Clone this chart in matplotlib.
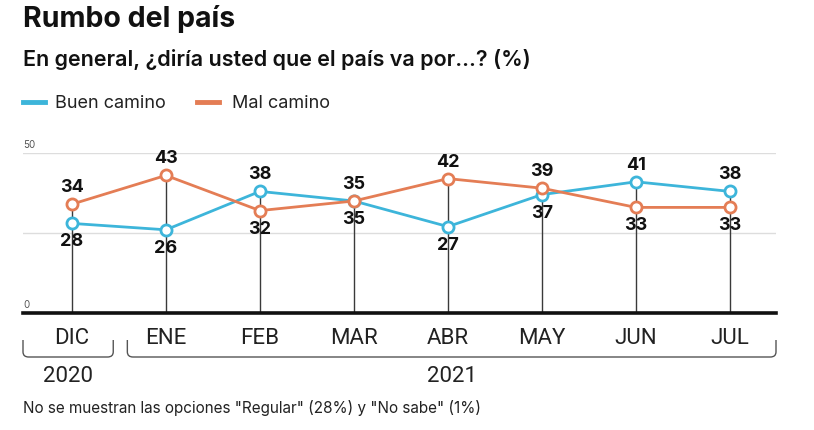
import matplotlib
matplotlib.use("Agg")
import matplotlib.pyplot as plt
from matplotlib.path import Path
from matplotlib.patches import PathPatch
import matplotlib.transforms as mtransforms

plt.rcParams['font.family'] = ['Inter', 'DejaVu Sans']
NARROW = ['Liberation Sans Narrow', 'Roboto', 'DejaVu Sans']

months = ["DIC", "ENE", "FEB", "MAR", "ABR", "MAY", "JUN", "JUL"]
buen = [28, 26, 38, 35, 27, 37, 41, 38]
mal = [34, 43, 32, 35, 42, 39, 33, 33]
years = ["2020", "2021"]
year_span = [(0, 0), (1, 7)]
yticks = [0, 50]
grid_vals = [25, 50]

BLUE = "#3db5da"
ORANGE = "#e47d55"
W, H = 814, 431

fig = plt.figure(figsize=(W / 100, H / 100), dpi=100)

def fy(py):
    return 1 - py / H

def fx(px):
    return px / W

ax = fig.add_axes([fx(23), fy(314), fx(776) - fx(23), (314 - 154) / H])
x = list(range(len(months)))
ax.set_xlim(-0.52, 7.49)
ax.set_ylim(0, 50)
for s in ax.spines.values():
    s.set_visible(False)
ax.set_xticks([])
ax.set_yticks([])

for g in grid_vals:
    ax.axhline(g, color="#dddddd", lw=1, zorder=0)
ax.axhline(0, color="#111111", lw=2.6, zorder=5, clip_on=False)

for i in x:
    top = max(buen[i], mal[i])
    ax.plot([i, i], [0, top], color="#3a3a3a", lw=1, zorder=1)

ax.plot(x, buen, color=BLUE, lw=2, marker="o", ms=8, mfc="white", mew=2,
        zorder=3, clip_on=False)
ax.plot(x, mal, color=ORANGE, lw=2, marker="o", ms=8, mfc="white", mew=2,
        zorder=4, clip_on=False)

for i in x:
    b, m = buen[i], mal[i]
    if m >= b:
        up, dn = m, b
    else:
        up, dn = b, m
    ax.annotate(str(up), (i, up), xytext=(0, 6.5), textcoords="offset points",
                ha="center", va="bottom", fontsize=13, fontweight="bold",
                color="#111111", zorder=6)
    ax.annotate(str(dn), (i, dn), xytext=(0, -6.5), textcoords="offset points",
                ha="center", va="top", fontsize=13, fontweight="bold",
                color="#111111", zorder=6)

for v in yticks:
    ax.text(-0.52, v + 1.2, str(v), fontsize=7, color="#555555",
            ha="left", va="bottom")

for i, mth in enumerate(months):
    ax.text(i, -4.5, mth, ha="center", va="top", fontsize=16,
            family=NARROW, color="#222222")

# year brackets
trans = mtransforms.blended_transform_factory(ax.transData, fig.transFigure)
for (a, b), yr in zip(year_span, years):
    x0 = a - 0.41 if a > 0 else -0.52
    x1 = b + 0.44 if b < len(months) - 1 else 7.49
    y0, y1 = fy(341), fy(358)
    r = 0.06
    verts = [(x0, y0), (x0, y1 + 0.012), (x0, y1), (x0 + r, y1),
             (x1 - r, y1), (x1, y1), (x1, y1 + 0.012), (x1, y0)]
    codes = [Path.MOVETO, Path.LINETO, Path.CURVE3, Path.CURVE3,
             Path.LINETO, Path.CURVE3, Path.CURVE3, Path.LINETO]
    fig.add_artist(PathPatch(Path(verts, codes), transform=trans, fill=False,
                             edgecolor="#555555", lw=1))
    ax.text((x0 + x1) / 2, fy(377), yr, transform=trans, ha="center",
            va="center", fontsize=16, family=NARROW, color="#222222")

fig.text(fx(23), fy(19), "Rumbo del país", fontsize=20.5, fontweight="bold",
         color="#111111", va="center")
fig.text(fx(23), fy(60), "En general, ¿diría usted que el país va por…? (%)",
         fontsize=15.5, fontweight="semibold", color="#111111", va="center")

# legend
for lx, tx, col, lab in [(23, 55, BLUE, "Buen camino"),
                         (197, 232, ORANGE, "Mal camino")]:
    fig.add_artist(plt.Line2D([fx(lx), fx(lx + 22)], [fy(103), fy(103)],
                              color=col, lw=3.5))
    fig.text(fx(tx), fy(103), lab, fontsize=13, color="#222222",
             va="center")

fig.text(fx(23), fy(408),
         'No se muestran las opciones "Regular" (28%) y "No sabe" (1%)',
         fontsize=11, color="#222222", va="center")

fig.savefig("out.png", dpi=100, facecolor="white")
